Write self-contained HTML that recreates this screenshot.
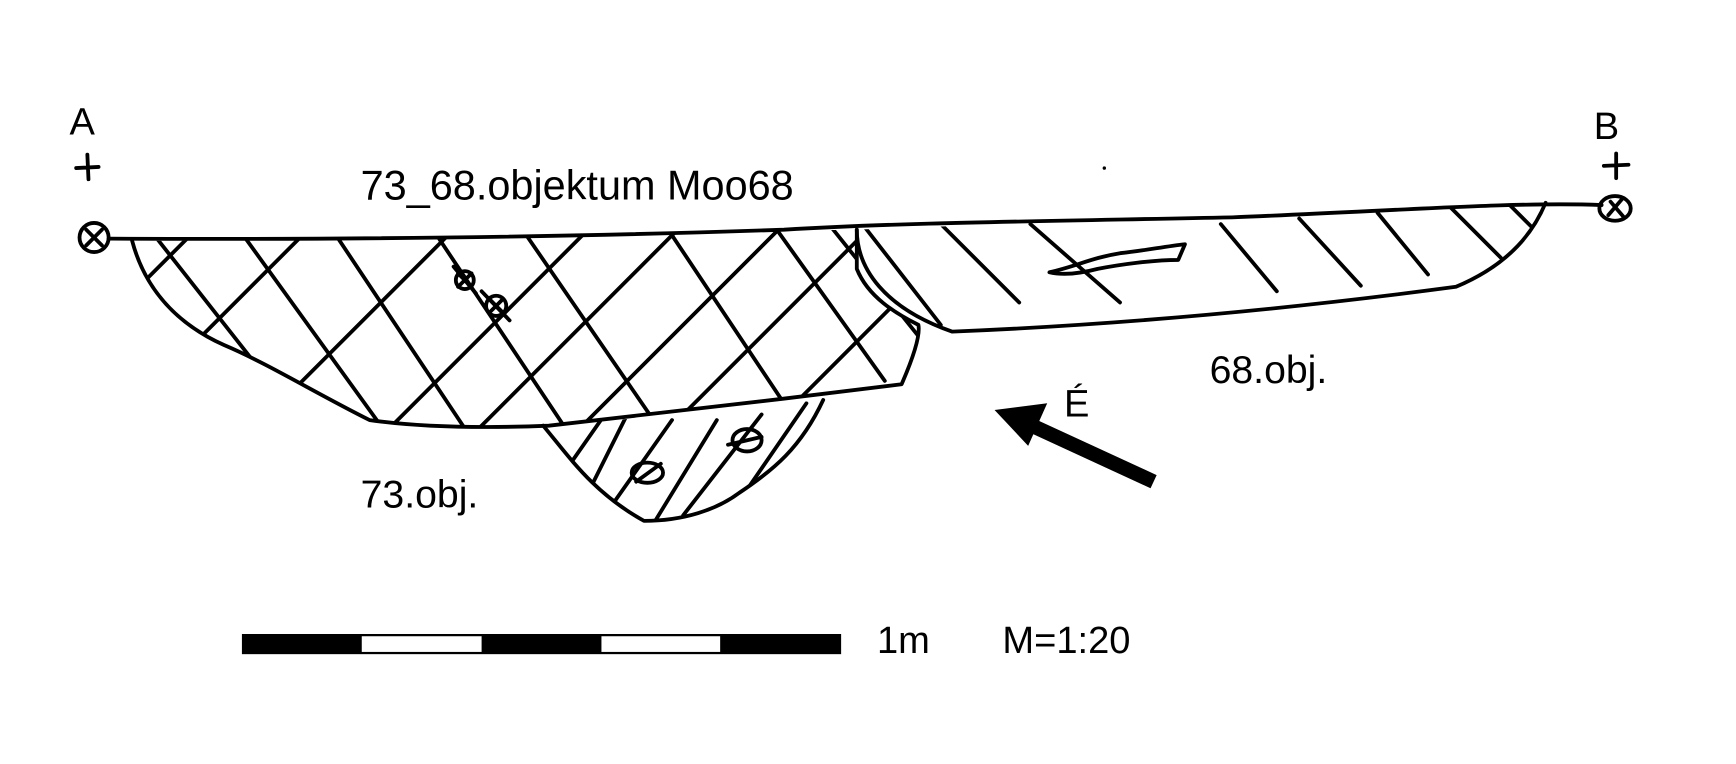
<!DOCTYPE html>
<html><head><meta charset="utf-8"><style>
html,body{margin:0;padding:0;background:#fff;}
svg{display:block;}
text{font-family:"Liberation Sans",sans-serif;fill:#000;}
</style></head><body>
<svg width="1736" height="764" viewBox="0 0 1550 682" xmlns="http://www.w3.org/2000/svg">
<defs>
<clipPath id="left"><path d="M118,215 C130,260 160,290 200,308 C240,325 280,350 330,375 C380,382 440,382 490,380 C600,368 700,356 805,343 C815,320 822,300 820,290 C800,280 775,265 765,240 L765,205 C600,208 400,214 118,215 Z"/></clipPath>
<clipPath id="right"><path d="M765,205 C765,240 790,275 850,296 C1000,290 1150,276 1300,256 C1350,235 1370,205 1380,181 C1200,188 1000,196 765,205 Z"/></clipPath>
<clipPath id="lens"><path d="M485,380 C510,410 530,440 575,465 C610,465 640,455 660,440 C690,420 715,400 735,357 C650,365 560,375 485,380 Z"/></clipPath>
</defs>
<g fill="none" stroke="#000" stroke-width="3.4" stroke-linecap="round" stroke-linejoin="round">
<path d="M97,213 C300,214 500,212 700,205 C800,199 900,198 1100,194 C1250,188 1350,180 1430,183"/>
<path d="M118,215 C130,260 160,290 200,308 C240,325 280,350 330,375 C380,382 440,382 490,380 C600,368 700,356 805,343 C815,320 822,300 820,290 C800,280 775,265 765,240 L765,205"/>
<path d="M765,205 C765,240 790,275 850,296 C1000,290 1150,276 1300,256 C1350,235 1370,205 1380,181"/>
<path d="M485,380 C510,410 530,440 575,465 C610,465 640,455 660,440 C690,420 715,400 735,357"/>
<g clip-path="url(#left)">
<path d="M80,300 L260,120 M150,330 L360,120 M250,360 L480,130 M330,400 L580,150 M410,400 L660,150 M500,400 L760,140 M580,400 L840,140 M680,390 L900,170"/>
<path d="M130,200 L240,340 M210,200 L340,380 M300,210 L420,390 M390,210 L510,390 M470,210 L580,370 M600,210 L700,360 M690,200 L790,340 M740,200 L820,300"/>
</g>
<g clip-path="url(#right)">
<path d="M770,200 L840,290 M840,200 L910,270 M920,200 L1000,270 M1090,200 L1140,260 M1160,195 L1215,255 M1230,190 L1275,245 M1295,185 L1340,230 M1345,180 L1370,205"/>
</g>
<g clip-path="url(#lens)">
<path d="M540,370 L505,420 M560,370 L525,440 M600,375 L540,460 M640,375 L585,465 M680,370 L610,460 M720,360 L665,440"/>
</g>
<path d="M937,243 C960,238 975,230 1000,226 C1020,224 1040,220 1058,218 L1052,232 C1030,232 1000,236 980,240 C965,244 950,246 937,243 Z"/>
<ellipse cx="578" cy="422" rx="14" ry="9"/><path d="M568,430 L590,414"/>
<ellipse cx="667" cy="393" rx="13" ry="10"/><path d="M650,397 L680,390"/>
<circle cx="415" cy="250" r="8"/><path d="M409,244 L421,256 M421,244 L409,256 M405,238 L425,262"/>
<circle cx="443" cy="273" r="9"/><path d="M437,267 L449,279 M449,267 L437,279 M430,260 L455,286"/>
<circle cx="84" cy="212" r="13"/><path d="M77,205 L91,219 M91,205 L77,219"/>
<ellipse cx="1442" cy="186" rx="14" ry="11"/><path d="M1436,192 L1448,178 M1438,180 L1450,194"/>
<path d="M68,150 L88,149 M78,138 L79,160 M1432,148 L1454,147 M1443,137 L1443,159"/>
</g>
<path d="M1030,430 L915,377" stroke="#000" stroke-width="13" fill="none"/>
<polygon points="888,366 935,360 918,398" fill="#000"/>
<text x="62" y="120" font-size="34">A</text>
<text x="1423" y="124" font-size="34">B</text>
<text x="322" y="178" font-size="37">73_68.objektum Moo68</text>
<text x="950" y="372" font-size="34">É</text>
<text x="1080" y="342" font-size="35">68.obj.</text>
<text x="322" y="453" font-size="35">73.obj.</text>
<text x="783" y="583" font-size="34">1m</text>
<text x="895" y="583" font-size="34">M=1:20</text>
<rect x="217" y="567" width="533" height="16" fill="#fff" stroke="#000" stroke-width="2"/>
<rect x="217" y="567" width="106" height="16" fill="#000"/>
<rect x="430" y="567" width="107" height="16" fill="#000"/>
<rect x="643" y="567" width="107" height="16" fill="#000"/>
<circle cx="986" cy="150" r="1.5" fill="#000"/>
</svg>
</body></html>
